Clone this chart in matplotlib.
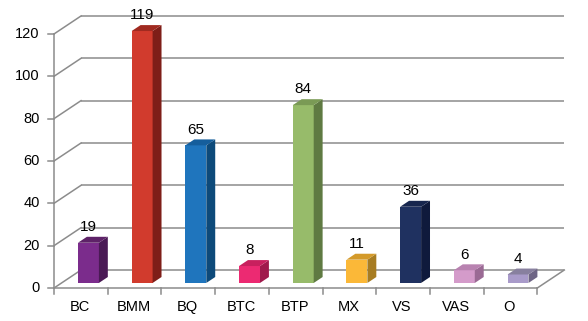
import matplotlib
matplotlib.use("Agg")
import matplotlib.pyplot as plt
from matplotlib.patches import Polygon

categories = ["BC", "BMM", "BQ", "BTC", "BTP", "MX", "VS", "VAS", "O"]
values = [19, 119, 65, 8, 84, 11, 36, 6, 4]
yticks = [0, 20, 40, 60, 80, 100, 120]

front_colors = ["#7B2C8C", "#D13B2D", "#1F75BD", "#EC2A72", "#97BB6A",
                "#FBB838", "#1F3160", "#D49BCA", "#A99BCA"]
side_colors = ["#4A1A55", "#7E1E18", "#0D4A7A", "#A01A4C", "#5F7A42",
               "#A77C22", "#0F1A3C", "#9A6A94", "#6E6585"]
top_colors = ["#5E2268", "#A02A20", "#155E9C", "#C8205E", "#7A9A55",
              "#D49A2A", "#17264E", "#B882B0", "#88809F"]

fig = plt.figure(figsize=(5.88, 3.21), dpi=100)
ax = fig.add_axes([0, 0, 1, 1])
ax.set_xlim(-1.006, 9.944)
ax.set_ylim(-15.59, 136.04)
ax.axis("off")

n = len(categories)
DDX, DDY = 0.503, 8.5      # full depth offset in data units
D0, D1 = 0.28, 0.61        # bar depth range
W = 0.39                   # bar width
grid_c = "#8C8C8C"
lw = 1.1


def proj(u, v, d):
    return (u + d * DDX, v + d * DDY)


# back wall gridlines + left wall diagonals
for t in yticks:
    x0, y0 = proj(0, t, 1)
    x1, y1 = proj(n, t, 1)
    ax.plot([x0, x1], [y0, y1], color=grid_c, lw=lw, zorder=1, solid_capstyle="butt")
    ax.plot([0, x0], [t, y0], color=grid_c, lw=lw, zorder=1)
    ax.plot([-0.11, 0], [t, t], color=grid_c, lw=lw, zorder=1)
    ax.text(-0.27, t, str(t), ha="right", va="center", fontsize=10.5,
            family="Liberation Sans", color="#000000")

# floor
ax.plot([0, n], [0, 0], color=grid_c, lw=lw, zorder=1)
xr, yr = proj(n, 0, 1)
ax.plot([n, xr], [0, yr], color=grid_c, lw=lw, zorder=1)
# front vertical axis
ax.plot([0, 0], [0, yticks[-1]], color=grid_c, lw=lw, zorder=1)
# x ticks
for i in range(n + 1):
    ax.plot([i, i], [0, -2.6], color=grid_c, lw=lw, zorder=1)

# bars
for i, (cat, val) in enumerate(zip(categories, values)):
    c = i + 0.5
    l, r = c - W / 2, c + W / 2
    front = [proj(l, 0, D0), proj(r, 0, D0), proj(r, val, D0), proj(l, val, D0)]
    side = [proj(r, 0, D0), proj(r, 0, D1), proj(r, val, D1), proj(r, val, D0)]
    top = [proj(l, val, D0), proj(r, val, D0), proj(r, val, D1), proj(l, val, D1)]
    ax.add_patch(Polygon(front, closed=True, facecolor=front_colors[i], edgecolor="none", zorder=3))
    ax.add_patch(Polygon(side, closed=True, facecolor=side_colors[i], edgecolor="none", zorder=3))
    ax.add_patch(Polygon(top, closed=True, facecolor=top_colors[i], edgecolor="none", zorder=3))
    lx, _ = proj(c, val, D0)
    _, ly = proj(c, val, D1)
    ax.annotate(str(val), (lx, ly), xytext=(0, 2.0), textcoords="offset points",
                ha="center", va="bottom", fontsize=11, family="Liberation Sans", zorder=4)
    ax.text(c - 0.02, -9.0, cat, ha="center", va="center", fontsize=10.5,
            family="Liberation Sans")

fig.savefig("out.png", dpi=100)
